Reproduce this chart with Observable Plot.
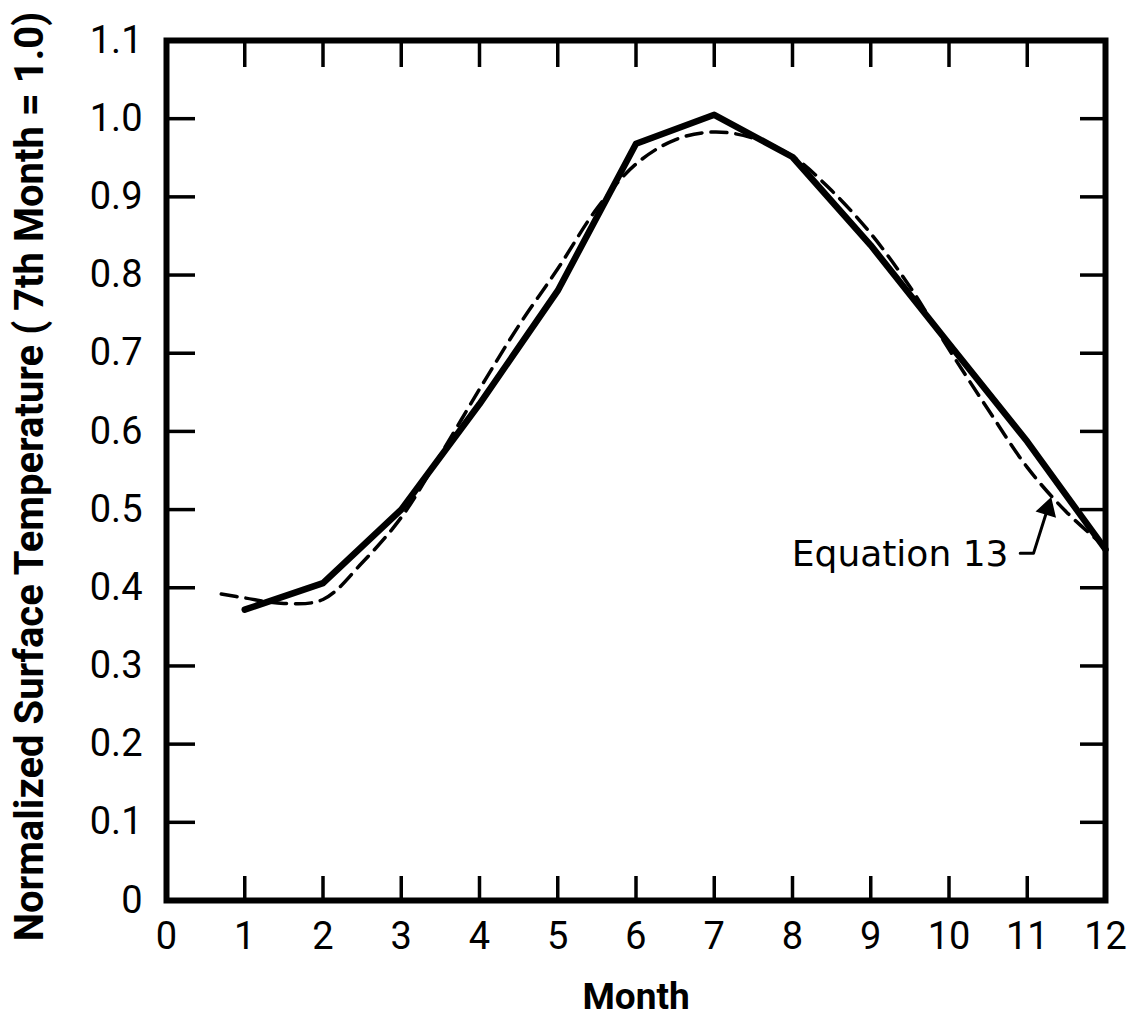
<!DOCTYPE html>
<html>
<head>
<meta charset="utf-8">
<script src="https://cdn.jsdelivr.net/npm/d3@7"></script>
<script src="https://cdn.jsdelivr.net/npm/@observablehq/plot@0.6"></script>
<style>
  html, body { margin: 0; padding: 0; background: #ffffff; }
</style>
</head>
<body>
<div id="chart"></div>
<script>
// ---- Data ----
const observedMonths = [1, 2, 3, 4, 5, 6, 7, 8, 9, 10, 11, 12];
const observedValues = [0.372, 0.406, 0.500, 0.635, 0.780, 0.968, 1.005, 0.951, 0.838, 0.712, 0.587, 0.449];

const equationMonths = [0.7, 1, 1.5, 2, 2.5, 3, 3.5, 4, 4.5, 5, 5.5, 6, 6.5, 7, 7.5, 8, 8.5, 9, 9.5, 10, 10.5, 11, 11.5, 12];
const equationValues = [0.392, 0.387, 0.380, 0.385, 0.432, 0.490, 0.570, 0.654, 0.735, 0.808, 0.885, 0.942, 0.973, 0.983, 0.975, 0.952, 0.908, 0.853, 0.785, 0.705, 0.628, 0.554, 0.497, 0.452];

const xTickValues = [0, 1, 2, 3, 4, 5, 6, 7, 8, 9, 10, 11, 12];
const xTickLabels = ["0", "1", "2", "3", "4", "5", "6", "7", "8", "9", "10", "11", "12"];
const xInnerTicks = [1, 2, 3, 4, 5, 6, 7, 8, 9, 10, 11];

const yTickValues = [0, 0.1, 0.2, 0.3, 0.4, 0.5, 0.6, 0.7, 0.8, 0.9, 1.0, 1.1];
const yTickLabels = ["0", "0.1", "0.2", "0.3", "0.4", "0.5", "0.6", "0.7", "0.8", "0.9", "1.0", "1.1"];
const yInnerTicks = [0.1, 0.2, 0.3, 0.4, 0.5, 0.6, 0.7, 0.8, 0.9, 1.0];

const xTitle = "Month";
const yTitle = "Normalized Surface Temperature ( 7th Month = 1.0)";

// annotation "Equation 13" with its leader and arrow head
const annotationText = "Equation 13";
const annotationMonth = [10.76];
const annotationValue = [0.443];
const leaderMonths = [10.91, 11.08, 11.26];
const leaderValues = [0.444, 0.444, 0.501];
const arrowHeadMonth = [11.26];
const arrowHeadValue = [0.501];

// ---- Tables built from the arrays ----
const observed = observedMonths.map((m, i) => ({month: m, value: observedValues[i]}));
const equation = equationMonths.map((m, i) => ({month: m, value: equationValues[i]}));
const annotation = annotationMonth.map((m, i) => ({month: m, value: annotationValue[i]}));
const leader = leaderMonths.map((m, i) => ({month: m, value: leaderValues[i]}));
const arrowHead = arrowHeadMonth.map((m, i) => ({month: m, value: arrowHeadValue[i]}));

const plot = Plot.plot({
  width: 1127,
  height: 1018,
  marginLeft: 166,
  marginRight: 22,
  marginTop: 40,
  marginBottom: 118,
  x: {domain: [0, 12]},
  y: {domain: [0, 1.1]},
  style: {fontFamily: "Roboto, 'DejaVu Sans', sans-serif", background: "#ffffff", color: "#000000"},
  marks: [
    // inward tick marks on all four sides
    Plot.axisX(xInnerTicks, {anchor: "bottom", tickSize: -24, tickFormat: () => "", label: null, strokeWidth: 3.5}),
    Plot.axisX(xInnerTicks, {anchor: "top", tickSize: -26, tickFormat: () => "", label: null, strokeWidth: 3.5}),
    Plot.axisY(yInnerTicks, {anchor: "left", tickSize: -29, tickFormat: () => "", label: null, strokeWidth: 3.5}),
    Plot.axisY(yInnerTicks, {anchor: "right", tickSize: -26, tickFormat: () => "", label: null, strokeWidth: 3.5}),
    // tick labels
    Plot.axisX(xTickValues, {anchor: "bottom", tickSize: 0, tickPadding: 22, fontSize: 38, label: null,
      tickFormat: d => xTickLabels[xTickValues.indexOf(d)]}),
    Plot.axisY(yTickValues, {anchor: "left", tickSize: 0, tickPadding: 24, fontSize: 38, label: null,
      tickFormat: d => yTickLabels[yTickValues.indexOf(d)]}),
    // data
    Plot.line(equation, {x: "month", y: "value", curve: "catmull-rom", stroke: "#000", strokeWidth: 3.5, strokeDasharray: "16,9"}),
    Plot.line(observed, {x: "month", y: "value", stroke: "#000", strokeWidth: 6.5, strokeLinejoin: "round", strokeLinecap: "round"}),
    // annotation
    Plot.text(annotation, {x: "month", y: "value", text: () => annotationText, textAnchor: "end", lineAnchor: "middle", fontSize: 36, fontFamily: "'DejaVu Sans', sans-serif"}),
    Plot.line(leader, {x: "month", y: "value", stroke: "#000", strokeWidth: 3}),
    Plot.dot(arrowHead, {x: "month", y: "value", symbol: "triangle", r: 7, fill: "#000", stroke: "#000", rotate: 17}),
    // frame
    Plot.frame({stroke: "#000", strokeWidth: 6}),
    // axis titles
    Plot.text([xTitle], {frameAnchor: "bottom", dy: 97, text: d => d, fontSize: 37, fontWeight: "bold", textAnchor: "middle", lineAnchor: "middle"}),
    Plot.text([yTitle], {frameAnchor: "left", dx: -136, dy: 6, rotate: -90, text: d => d, fontSize: 40, fontWeight: "bold", textAnchor: "middle", lineAnchor: "middle"})
  ]
});

document.getElementById("chart").appendChild(plot);
</script>
</body>
</html>
